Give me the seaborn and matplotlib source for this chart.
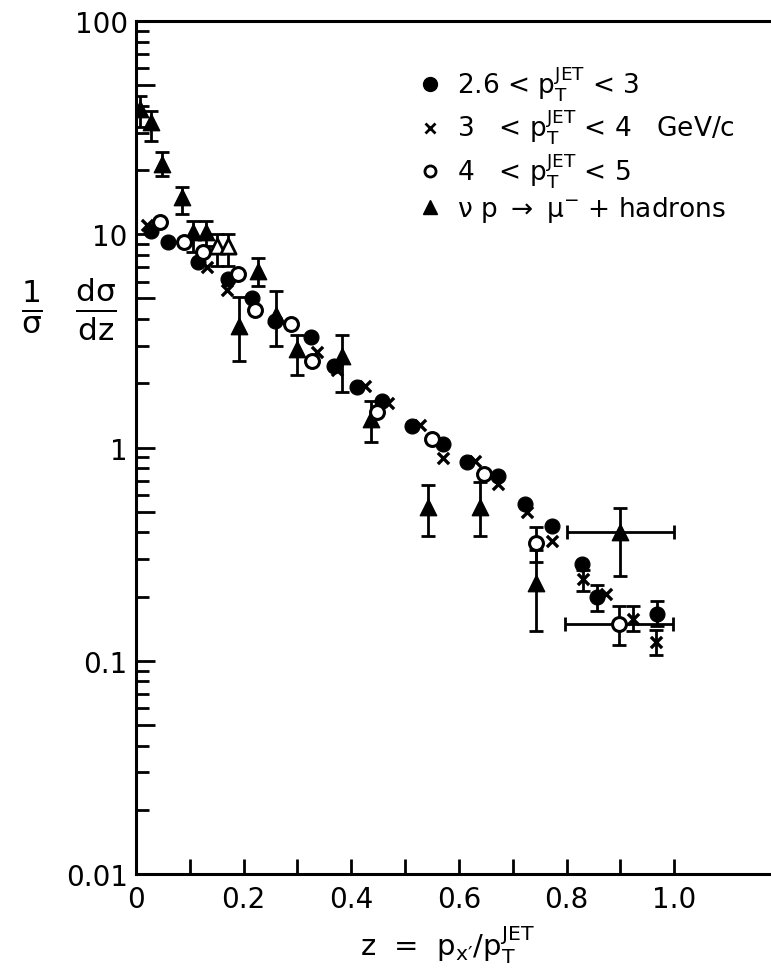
import matplotlib
matplotlib.use("Agg")
import matplotlib.pyplot as plt
import matplotlib.ticker as mticker
from matplotlib.lines import Line2D
import seaborn as sns
import numpy as np

# filled circles: 2.6 < pT < 3
z_a = [0.028, 0.06, 0.115, 0.171, 0.216, 0.258, 0.325, 0.368, 0.41, 0.457,
       0.513, 0.57, 0.615, 0.673, 0.723, 0.773, 0.829, 0.857, 0.968]
f_a = [10.4, 9.2, 7.4, 6.2, 5.0, 3.9, 3.3, 2.4, 1.92, 1.65,
       1.26, 1.04, 0.857, 0.736, 0.545, 0.428, 0.284, 0.20, 0.166]
lo_a = f_a[:17] + [0.172, 0.145]
hi_a = f_a[:17] + [0.227, 0.19]

# crosses: 3 < pT < 4
z_b = [0.02, 0.132, 0.17, 0.336, 0.373, 0.425, 0.468, 0.528, 0.57, 0.63,
       0.673, 0.726, 0.773, 0.83, 0.873, 0.924, 0.967]
f_b = [11.0, 7.0, 5.5, 2.8, 2.3, 1.95, 1.62, 1.27, 0.89, 0.86,
       0.675, 0.50, 0.365, 0.242, 0.205, 0.157, 0.123]
lo_b = f_b[:13] + [0.213, 0.205, 0.138, 0.107]
hi_b = f_b[:13] + [0.267, 0.205, 0.18, 0.14]

# open circles: 4 < pT < 5
z_c = [0.045, 0.09, 0.125, 0.19, 0.221, 0.288, 0.327, 0.448, 0.55, 0.647, 0.743, 0.898]
f_c = [11.4, 9.2, 8.3, 6.5, 4.4, 3.8, 2.55, 1.47, 1.10, 0.75, 0.357, 0.149]
lo_c = f_c[:10] + [0.29, 0.118]
hi_c = f_c[:10] + [0.425, 0.181]
xerr_c = [0] * 11 + [0.1]

# triangles: nu p -> mu- + hadrons
z_d = [0.007, 0.028, 0.048, 0.085, 0.106, 0.13, 0.192, 0.227, 0.26, 0.299,
       0.383, 0.437, 0.543, 0.639, 0.743, 0.90]
f_d = [38.6, 33.6, 21.4, 15.0, 10.3, 10.3, 3.7, 6.7, 4.2, 2.9,
       2.69, 1.36, 0.527, 0.527, 0.232, 0.40]
lo_d = [32, 27.4, 18.7, 12.4, 8.3, 8.8, 2.55, 5.7, 3.0, 2.2,
        1.82, 1.06, 0.385, 0.385, 0.138, 0.25]
hi_d = [44.5, 37.9, 24.3, 16.7, 11.5, 11.5, 5.1, 7.7, 5.4, 3.37,
        3.37, 1.65, 0.67, 0.69, 0.33, 0.52]
xerr_d = [0] * 15 + [0.1]

# open-looking triangles
z_e = [0.151, 0.171]
f_e = [8.8, 8.8]
lo_e = [7.1, 7.1]
hi_e = [10.0, 10.0]

xticks = [0, 0.1, 0.2, 0.3, 0.4, 0.5, 0.6, 0.7, 0.8, 0.9, 1.0]
xtick_labels = ["0", "", "0.2", "", "0.4", "", "0.6", "", "0.8", "", "1.0"]
ytick_labels = {100: "100", 10: "10", 1: "1", 0.1: "0.1", 0.01: "0.01"}

sns.set_theme(style="ticks")
plt.rcParams["font.family"] = ["DejaVu Sans"]
plt.rcParams["mathtext.default"] = "regular"
plt.rcParams["text.color"] = "black"
plt.rcParams["axes.labelcolor"] = "black"
plt.rcParams["xtick.color"] = "black"
plt.rcParams["ytick.color"] = "black"

fig = plt.figure(figsize=(7.71, 9.79), dpi=100)
ax = fig.add_axes([0.1764, 0.1062, 0.8236, 0.8713])


def draw_bars(z, f, lo, hi, xerr=None):
    z, f, lo, hi = map(np.asarray, (z, f, lo, hi))
    m = (hi - lo) > 0
    if xerr is not None:
        m = m | (np.asarray(xerr) > 0)
    ye = np.vstack([f - lo, hi - f])[:, m]
    xe = None if xerr is None else np.asarray(xerr)[m]
    ax.errorbar(z[m], f[m], yerr=ye, xerr=xe, fmt="none", ecolor="black",
                elinewidth=2, capsize=5, capthick=2, zorder=2)


draw_bars(z_a, f_a, lo_a, hi_a)
draw_bars(z_b, f_b, lo_b, hi_b)
draw_bars(z_c, f_c, lo_c, hi_c, xerr_c)
draw_bars(z_d, f_d, lo_d, hi_d, xerr_d)
draw_bars(z_e, f_e, lo_e, hi_e)

sns.scatterplot(x=z_a, y=f_a, marker="o", s=115, color="black", edgecolor="black", ax=ax, zorder=3)
sns.scatterplot(x=z_b, y=f_b, marker="x", s=65, color="black", linewidth=2.4, ax=ax, zorder=3)
sns.scatterplot(x=z_c, y=f_c, marker="o", s=100, facecolor="white", edgecolor="black", linewidth=2.2, ax=ax, zorder=4)
sns.scatterplot(x=z_d, y=f_d, marker="^", s=140, color="black", edgecolor="black", ax=ax, zorder=3)
sns.scatterplot(x=z_e, y=f_e, marker="^", s=120, facecolor="white", edgecolor="black", linewidth=2, ax=ax, zorder=3)

ax.set_yscale("log")
ax.set_xlim(0, 1.18)
ax.set_ylim(0.01, 100)

ax.set_xticks(xticks)
ax.set_xticklabels(xtick_labels)
ax.yaxis.set_major_locator(mticker.FixedLocator([0.01, 0.05, 0.1, 0.5, 1, 5, 10, 50, 100]))
ax.yaxis.set_major_formatter(mticker.FuncFormatter(lambda v, p: ytick_labels.get(round(v, 4), "")))
ax.yaxis.set_minor_locator(mticker.LogLocator(base=10, subs=[2, 3, 4, 6, 7, 8, 9]))
ax.yaxis.set_minor_formatter(mticker.NullFormatter())

ax.tick_params(axis="x", direction="in", length=11, width=2, labelsize=20, pad=8, bottom=True, top=False)
ax.tick_params(axis="y", which="major", direction="in", length=14, width=2, labelsize=20, pad=6)
ax.tick_params(axis="y", which="minor", direction="in", length=9, width=2)

for side in ["left", "bottom", "top"]:
    ax.spines[side].set_linewidth(2.2)
    ax.spines[side].set_color("black")
ax.spines["right"].set_visible(False)

ax.set_xlabel(r"z  =  $p_{x\prime}/p_T^{JET}$", fontsize=21)
ax.xaxis.set_label_coords(0.49, -0.058)
ax.set_ylabel(r"$\frac{1}{\sigma}\ \ \frac{d\sigma}{dz}$", fontsize=32, rotation=0)
ax.yaxis.set_label_coords(-0.105, 0.625)

handles = [
    Line2D([], [], marker="o", color="black", linestyle="none", markersize=10),
    Line2D([], [], marker="x", color="black", linestyle="none", markersize=7, markeredgewidth=2),
    Line2D([], [], marker="o", markerfacecolor="white", markeredgecolor="black",
           markeredgewidth=2, linestyle="none", markersize=8),
    Line2D([], [], marker="^", color="black", linestyle="none", markersize=10),
]
labels = [
    r"2.6 < $p_T^{JET}$ < 3",
    r"3   < $p_T^{JET}$ < 4   GeV/c",
    r"4   < $p_T^{JET}$ < 5",
    r"$\nu$ p $\rightarrow$ $\mu^{-}$ + hadrons",
]
ax.legend(handles, labels, loc="upper left", bbox_to_anchor=(0.43, 0.963),
          frameon=False, fontsize=19, handlelength=0.8, handletextpad=0.6,
          labelspacing=0.16, borderaxespad=0)

fig.savefig("out.png", dpi=100)
